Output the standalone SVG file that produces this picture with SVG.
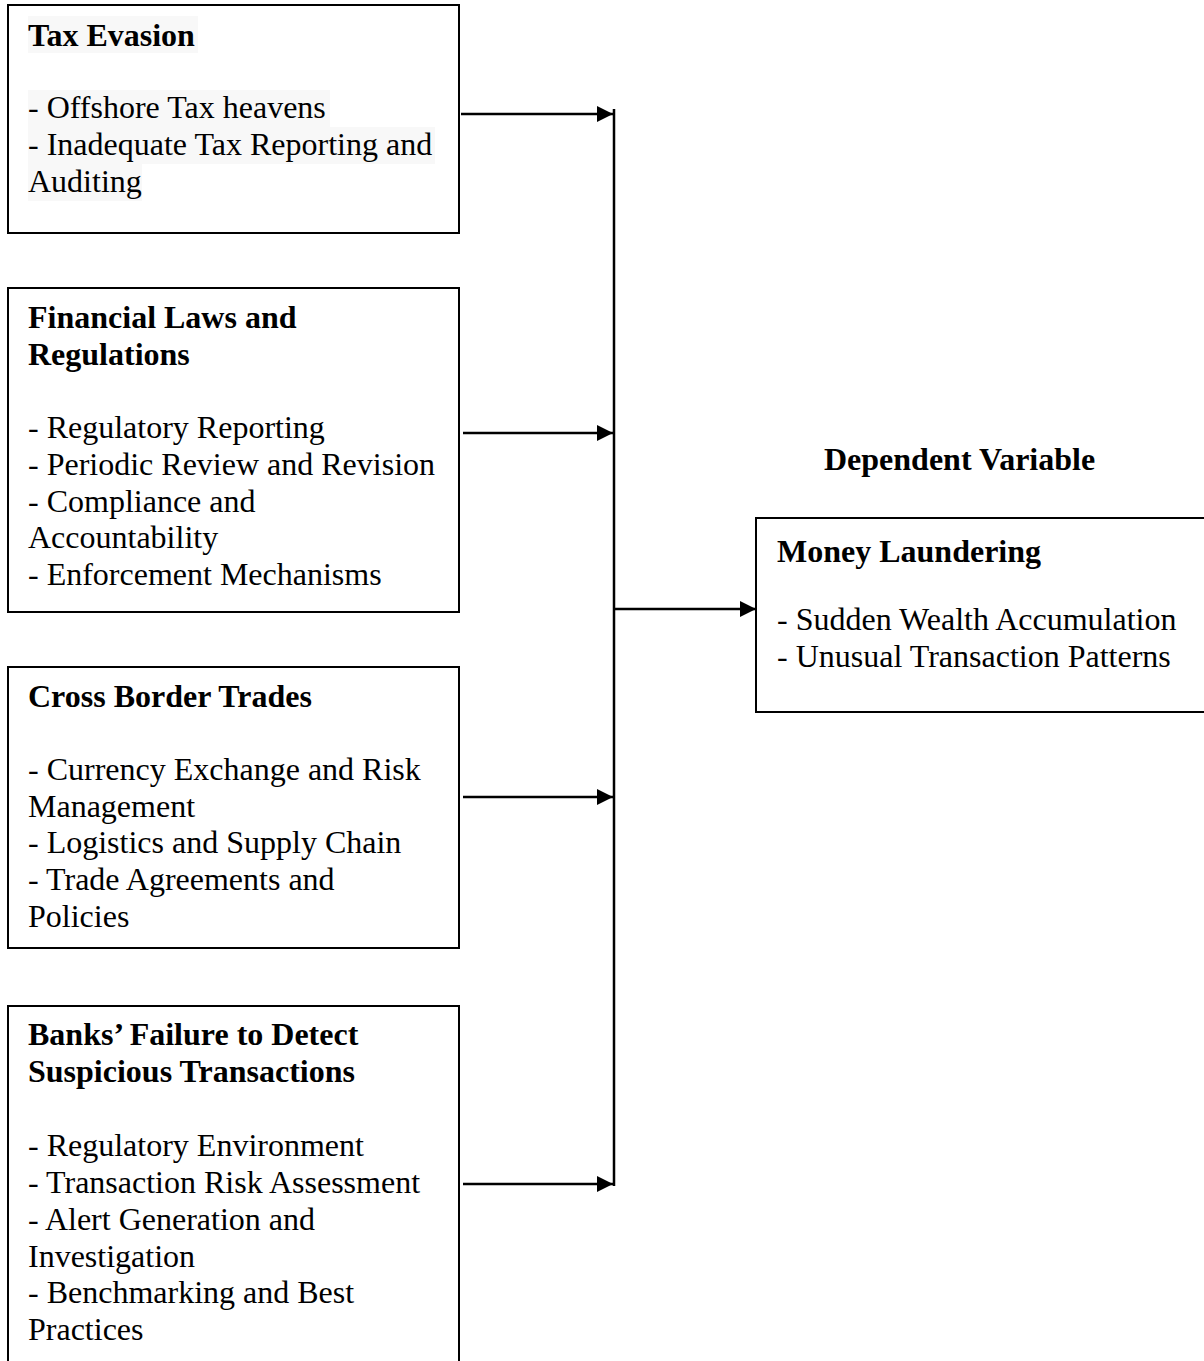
<svg xmlns="http://www.w3.org/2000/svg" width="1204" height="1361" viewBox="0 0 1204 1361">
<defs>
<marker id="ah" markerUnits="userSpaceOnUse" markerWidth="18" markerHeight="18" refX="16" refY="8" orient="auto">
<path d="M0,0 L16,8 L0,16 z" fill="#000"/>
</marker>
<style>
.box{fill:#fff;stroke:#000;stroke-width:2}
.t{font-family:"Liberation Serif","Times New Roman",serif;font-size:32px;fill:#000}
.b{font-weight:bold}
.hl{fill:#f8f8f8}
.c{stroke:#000;stroke-width:2.5;fill:none}
</style>
</defs>
<rect width="1204" height="1361" fill="#fff"/>
<g id="tax-evasion">
<rect class="box" x="8" y="5" width="451" height="228"/>
<rect class="hl" x="28" y="16" width="170" height="37"/>
<rect class="hl" x="28" y="90" width="302" height="37"/>
<rect class="hl" x="28" y="127" width="407" height="37"/>
<rect class="hl" x="28" y="164" width="114" height="37"/>
<text class="t b" x="28" y="46">Tax Evasion</text>
<text class="t" x="28" y="118">- Offshore Tax heavens</text>
<text class="t" x="28" y="155">- Inadequate Tax Reporting and</text>
<text class="t" x="28" y="192">Auditing</text>
</g>
<g id="financial-laws">
<rect class="box" x="8" y="288" width="451" height="324"/>
<text class="t b" x="28" y="328">Financial Laws and</text>
<text class="t b" x="28" y="365">Regulations</text>
<text class="t" x="28" y="438">- Regulatory Reporting</text>
<text class="t" x="28" y="475">- Periodic Review and Revision</text>
<text class="t" x="28" y="512">- Compliance and</text>
<text class="t" x="28" y="548">Accountability</text>
<text class="t" x="28" y="585">- Enforcement Mechanisms</text>
</g>
<g id="cross-border">
<rect class="box" x="8" y="667" width="451" height="281"/>
<text class="t b" x="28" y="707">Cross Border Trades</text>
<text class="t" x="28" y="780">- Currency Exchange and Risk</text>
<text class="t" x="28" y="817">Management</text>
<text class="t" x="28" y="853">- Logistics and Supply Chain</text>
<text class="t" x="28" y="890">- Trade Agreements and</text>
<text class="t" x="28" y="927">Policies</text>
</g>
<g id="banks-failure">
<rect class="box" x="8" y="1006" width="451" height="400"/>
<text class="t b" x="28" y="1045">Banks’ Failure to Detect</text>
<text class="t b" x="28" y="1082">Suspicious Transactions</text>
<text class="t" x="28" y="1156">- Regulatory Environment</text>
<text class="t" x="28" y="1193">- Transaction Risk Assessment</text>
<text class="t" x="28" y="1230">- Alert Generation and</text>
<text class="t" x="28" y="1267">Investigation</text>
<text class="t" x="28" y="1303">- Benchmarking and Best</text>
<text class="t" x="28" y="1340">Practices</text>
</g>
<g id="dependent-label">
<text class="t b" x="824" y="470">Dependent Variable</text>
</g>
<g id="money-laundering">
<rect class="box" x="756" y="518" width="460" height="194"/>
<text class="t b" x="777" y="562">Money Laundering</text>
<text class="t" x="777" y="630">- Sudden Wealth Accumulation</text>
<text class="t" x="777" y="667">- Unusual Transaction Patterns</text>
</g>
<g id="connectors">
<line class="c" x1="614" y1="109" x2="614" y2="1186"/>
<line class="c" x1="461" y1="114" x2="613" y2="114" marker-end="url(#ah)"/>
<line class="c" x1="463" y1="433" x2="613" y2="433" marker-end="url(#ah)"/>
<line class="c" x1="463" y1="797" x2="613" y2="797" marker-end="url(#ah)"/>
<line class="c" x1="463" y1="1184" x2="613" y2="1184" marker-end="url(#ah)"/>
<line class="c" x1="614" y1="609" x2="756" y2="609" marker-end="url(#ah)"/>
</g>
</svg>
